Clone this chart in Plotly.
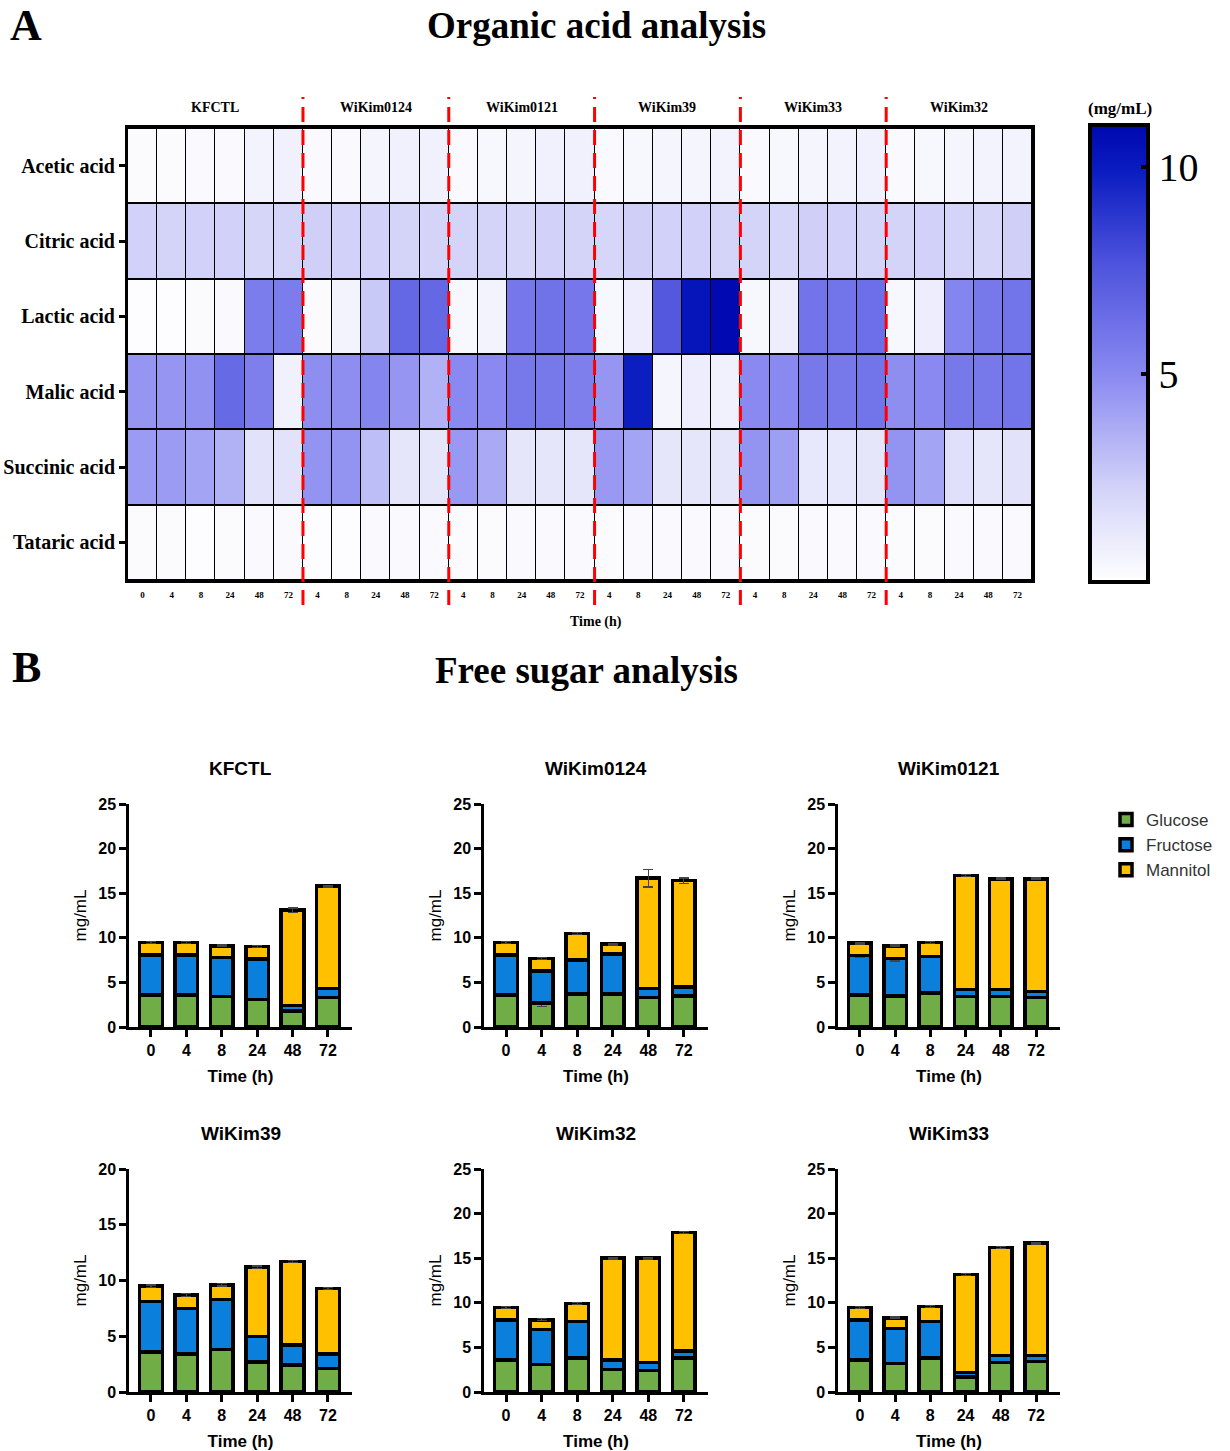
import plotly.graph_objects as go

# ---------------- Data: organic acid heatmap ----------------
acids = ["Acetic acid", "Citric acid", "Lactic acid", "Malic acid", "Succinic acid", "Tataric acid"]
acid_groups = ["KFCTL", "WiKim0124", "WiKim0121", "WiKim39", "WiKim33", "WiKim32"]
acid_group_times = [["0", "4", "8", "24", "48", "72"],
                    ["4", "8", "24", "48", "72"],
                    ["4", "8", "24", "48", "72"],
                    ["4", "8", "24", "48", "72"],
                    ["4", "8", "24", "48", "72"],
                    ["4", "8", "24", "48", "72"]]

acetic = [0.2, 0.2, 0.3, 0.3, 0.6, 0.7, 0.3, 0.3, 0.5, 0.7, 0.7, 0.3, 0.4, 0.5, 0.7, 0.7,
          0.3, 0.4, 0.5, 0.5, 0.6, 0.3, 0.4, 0.5, 0.6, 0.7, 0.3, 0.4, 0.5, 0.6, 0.6]
citric = [2.3, 2.2, 2.3, 2.3, 2.1, 2.2, 2.4, 2.3, 2.3, 2.2, 2.2, 2.2, 2.2, 2.1, 2.3, 2.2,
          2.1, 2.4, 2.3, 2.3, 2.2, 2.2, 2.1, 2.4, 2.3, 2.2, 2.2, 2.3, 2.2, 2.1, 2.4]
lactic = [0.1, 0.1, 0.2, 0.3, 5.6, 5.6, 0.2, 0.6, 2.6, 6.6, 6.6, 0.4, 0.6, 5.9, 6.1, 5.9,
          0.4, 0.9, 7.4, 10.3, 10.9, 0.4, 0.9, 6.0, 6.0, 6.3, 0.4, 0.9, 5.2, 5.8, 6.0]
malic = [4.5, 4.5, 4.7, 6.5, 5.5, 0.7, 4.8, 4.8, 5.2, 4.5, 3.5, 5.0, 5.0, 5.8, 5.8, 5.5,
         4.5, 9.8, 0.5, 0.9, 0.7, 5.0, 5.0, 5.8, 5.8, 6.0, 4.8, 5.0, 5.8, 5.8, 6.0]
succinic = [4.3, 4.3, 4.0, 3.5, 1.5, 1.5, 4.6, 4.6, 3.0, 1.3, 1.3, 4.4, 3.8, 1.3, 1.3, 1.3,
            4.4, 4.0, 1.3, 1.3, 1.3, 4.6, 4.2, 1.2, 1.2, 1.3, 4.6, 4.0, 1.6, 1.3, 1.5]
tartaric = [0.2, 0.2, 0.1, 0.2, 0.3, 0.3, 0.1, 0.1, 0.3, 0.3, 0.3, 0.2, 0.2, 0.3, 0.3, 0.3,
            0.2, 0.3, 0.3, 0.3, 0.3, 0.2, 0.2, 0.3, 0.3, 0.3, 0.2, 0.2, 0.3, 0.3, 0.3]

# ---------------- Data: free sugar stacked bars ----------------
sugar_times = ["0", "4", "8", "24", "48", "72"]
sugar_panels = ["KFCTL", "WiKim0124", "WiKim0121", "WiKim39", "WiKim32", "WiKim33"]
sugar_ymax = [25, 25, 25, 20, 25, 25]

glucose = {
    "KFCTL":     [3.6, 3.6, 3.4, 3.1, 1.8, 3.3],
    "WiKim0124": [3.6, 2.7, 3.7, 3.7, 3.3, 3.5],
    "WiKim0121": [3.6, 3.5, 3.8, 3.4, 3.4, 3.3],
    "WiKim39":   [3.6, 3.4, 3.8, 2.7, 2.4, 2.1],
    "WiKim32":   [3.6, 3.1, 3.8, 2.5, 2.4, 3.8],
    "WiKim33":   [3.6, 3.2, 3.8, 1.7, 3.3, 3.4],
}
fructose = {
    "KFCTL":     [4.5, 4.5, 4.4, 4.5, 0.6, 1.0],
    "WiKim0124": [4.5, 3.6, 3.8, 4.5, 1.0, 1.0],
    "WiKim0121": [4.4, 4.2, 4.1, 0.8, 0.8, 0.7],
    "WiKim39":   [4.5, 4.1, 4.5, 2.3, 1.8, 1.3],
    "WiKim32":   [4.5, 3.9, 4.1, 1.1, 0.9, 0.8],
    "WiKim33":   [4.5, 3.9, 4.1, 0.5, 0.8, 0.7],
}
mannitol = {
    "KFCTL":     [1.4, 1.35, 1.3, 1.4, 10.7, 11.5],
    "WiKim0124": [1.4, 1.4, 3.0, 1.1, 12.4, 11.9],
    "WiKim0121": [1.4, 1.4, 1.6, 12.8, 12.4, 12.6],
    "WiKim39":   [1.4, 1.2, 1.3, 6.2, 7.5, 5.9],
    "WiKim32":   [1.4, 1.1, 2.0, 11.4, 11.7, 13.3],
    "WiKim33":   [1.4, 1.2, 1.7, 11.0, 12.1, 12.6],
}
glucose_err = {
    "KFCTL":     [0.1, 0.1, 0.1, 0.1, 0.1, 0.1],
    "WiKim0124": [0.1, 0.4, 0.1, 0.1, 0.1, 0.1],
    "WiKim0121": [0.1, 0.1, 0.1, 0.1, 0.1, 0.1],
    "WiKim39":   [0.1, 0.1, 0.1, 0.1, 0.1, 0.1],
    "WiKim32":   [0.1, 0.1, 0.1, 0.1, 0.1, 0.1],
    "WiKim33":   [0.1, 0.1, 0.1, 0.1, 0.1, 0.1],
}
fructose_err = {
    "KFCTL":     [0.1, 0.1, 0.1, 0.1, 0.1, 0.1],
    "WiKim0124": [0.1, 0.1, 0.1, 0.1, 0.1, 0.1],
    "WiKim0121": [0.2, 0.3, 0.1, 0.1, 0.1, 0.1],
    "WiKim39":   [0.1, 0.1, 0.1, 0.1, 0.1, 0.1],
    "WiKim32":   [0.1, 0.1, 0.1, 0.1, 0.1, 0.1],
    "WiKim33":   [0.1, 0.1, 0.1, 0.1, 0.1, 0.1],
}
mannitol_err = {
    "KFCTL":     [0.1, 0.1, 0.1, 0.1, 0.25, 0.1],
    "WiKim0124": [0.1, 0.1, 0.1, 0.1, 1.0, 0.3],
    "WiKim0121": [0.1, 0.1, 0.1, 0.1, 0.1, 0.1],
    "WiKim39":   [0.1, 0.1, 0.1, 0.1, 0.1, 0.1],
    "WiKim32":   [0.1, 0.1, 0.1, 0.1, 0.1, 0.1],
    "WiKim33":   [0.1, 0.1, 0.1, 0.1, 0.1, 0.1],
}
sugar_names = ["Glucose", "Fructose", "Mannitol"]
sugar_colors = ["#70AD47", "#0A7FDC", "#FFC000"]

# ---------------- Layout helpers ----------------
W, H = 1230, 1451
def px(x):
    return x / W
def py(y):
    return 1 - y / H

SERIF = "Liberation Serif, Times New Roman, serif"
SANS = "Arial, Liberation Sans, sans-serif"

def label(x, y, text, family, size, weight="bold", color="black"):
    return dict(x=px(x), y=py(y), xref="paper", yref="paper", text=text, showarrow=False,
                xanchor="center", yanchor="middle",
                font=dict(family=family, size=size, color=color, weight=weight))

fig = go.Figure()

# ---------------- Heatmap ----------------
xticks = [t for g in acid_group_times for t in g]
ncol = len(xticks)
xidx = list(range(ncol))
z = [acetic, citric, lactic, malic, succinic, tartaric]

colorscale = [[0.0, "#FFFFFF"], [0.2, "#D4D4F9"], [0.45, "#8A8AF1"],
              [0.7, "#4C52DC"], [0.9, "#0A1CC0"], [1.0, "#0008B0"]]

fig.add_trace(go.Heatmap(
    z=z, x=xidx, y=acids, zmin=0, zmax=11, colorscale=colorscale,
    xgap=1, ygap=2, xaxis="x", yaxis="y",
    colorbar=dict(
        x=px(1090), xanchor="left", y=py(125), yanchor="top",
        len=457 / H, lenmode="fraction", thickness=58, thicknessmode="pixels",
        xpad=0, ypad=0, outlinewidth=4, outlinecolor="black",
        tickvals=[5, 10], ticks="inside", ticklen=9, tickwidth=4, tickcolor="black",
        tickfont=dict(family=SERIF, size=40, color="black"),
    ),
    showscale=True,
))

fig.update_layout(
    xaxis=dict(domain=[px(128), px(1032)], range=[-0.5, ncol - 0.5], anchor="y",
               tickvals=xidx, ticktext=xticks, ticks="", showgrid=False, zeroline=False,
               tickfont=dict(family=SERIF, size=9, color="black", weight="bold"),
               showline=True, mirror=True, linewidth=3, linecolor="black",
               ticklabelstandoff=4, automargin=False),
    yaxis=dict(domain=[py(580), py(128)], anchor="x", autorange="reversed",
               ticks="outside", ticklen=6, tickwidth=3, tickcolor="black",
               showgrid=False, zeroline=False, automargin=False,
               tickfont=dict(family=SERIF, size=20, color="black", weight="bold"),
               showline=True, mirror=True, linewidth=3, linecolor="black"),
)

shapes = [dict(type="rect", xref="x domain", yref="y domain", x0=0, x1=1, y0=0, y1=1,
               fillcolor="black", line=dict(width=0), layer="below")]
annotations = []

start = 0
for g, times in zip(acid_groups, acid_group_times):
    n = len(times)
    annotations.append(dict(x=start + (n - 1) / 2, y=py(107), xref="x", yref="paper",
                            text=g, showarrow=False, xanchor="center", yanchor="middle",
                            font=dict(family=SERIF, size=14, color="black", weight="bold")))
    if start > 0:
        shapes.append(dict(type="line", xref="x", yref="paper", x0=start - 0.5, x1=start - 0.5,
                           y0=py(605), y1=py(97), line=dict(color="#FF0000", width=3, dash="15px,8px")))
    start += n

annotations += [
    label(596, 622, "Time (h)", SERIF, 14),
    label(1120, 108, "(mg/mL)", SERIF, 17),
    label(596, 25, "Organic acid analysis", SERIF, 37),
    label(26, 25, "A", SERIF, 44),
    label(586, 670, "Free sugar analysis", SERIF, 37),
    label(26, 667, "B", SERIF, 44),
]

# ---------------- Stacked bar panels ----------------
col_x = [(129, 352), (484, 708), (838, 1060)]
row_y = [(804, 1027), (1169, 1392)]

for i, name in enumerate(sugar_panels):
    r, c = divmod(i, 3)
    k = i + 2
    xa, ya = f"x{k}", f"y{k}"
    comps = [glucose[name], fructose[name], mannitol[name]]
    errs = [glucose_err[name], fructose_err[name], mannitol_err[name]]
    for j in range(3):
        fig.add_trace(go.Bar(
            x=sugar_times, y=comps[j], name=sugar_names[j], xaxis=xa, yaxis=ya,
            marker=dict(color=sugar_colors[j], line=dict(color="black", width=3.5)),
            width=0.64, legendgroup=sugar_names[j], showlegend=(i == 0),
            error_y=dict(type="data", array=errs[j], visible=True, color="#444444",
                         thickness=1.2, width=5),
        ))
    x0, x1 = col_x[c]
    y0, y1 = row_y[r]
    fig.layout[f"xaxis{k}"] = dict(
        domain=[px(x0), px(x1)], anchor=ya, type="category", categoryarray=sugar_times,
        range=[-0.62, len(sugar_times) - 0.32], showline=True, linewidth=2.5, linecolor="black",
        ticks="outside", ticklen=7, tickwidth=2.5, tickcolor="black", showgrid=False,
        automargin=False,
        tickfont=dict(family=SANS, size=16, color="black", weight="bold"),
        title=dict(text="Time (h)", font=dict(family=SANS, size=17, color="black", weight="bold"),
                   standoff=13),
    )
    fig.layout[f"yaxis{k}"] = dict(
        domain=[py(y1), py(y0)], anchor=xa, range=[0, sugar_ymax[i]], dtick=5,
        showline=True, linewidth=2.5, linecolor="black", zeroline=False,
        ticks="outside", ticklen=7, tickwidth=2.5, tickcolor="black", showgrid=False,
        automargin=False,
        tickfont=dict(family=SANS, size=16, color="black", weight="bold"),
        title=dict(text="mg/mL", font=dict(family=SANS, size=17, color="black"), standoff=8),
    )
    annotations.append(label((x0 + x1) / 2, y0 - 36, name, SANS, 19))

fig.update_layout(
    width=W, height=H, margin=dict(l=0, r=0, t=0, b=0, autoexpand=False),
    paper_bgcolor="white", plot_bgcolor="white",
    barmode="stack", bargap=0.36,
    shapes=shapes, annotations=annotations,
    legend=dict(x=px(1106), y=py(802), xanchor="left", yanchor="top", traceorder="normal",
                font=dict(family=SANS, size=17, color="#333333"), tracegroupgap=10,
                bgcolor="rgba(0,0,0,0)"),
)

fig.write_html("out.html")
